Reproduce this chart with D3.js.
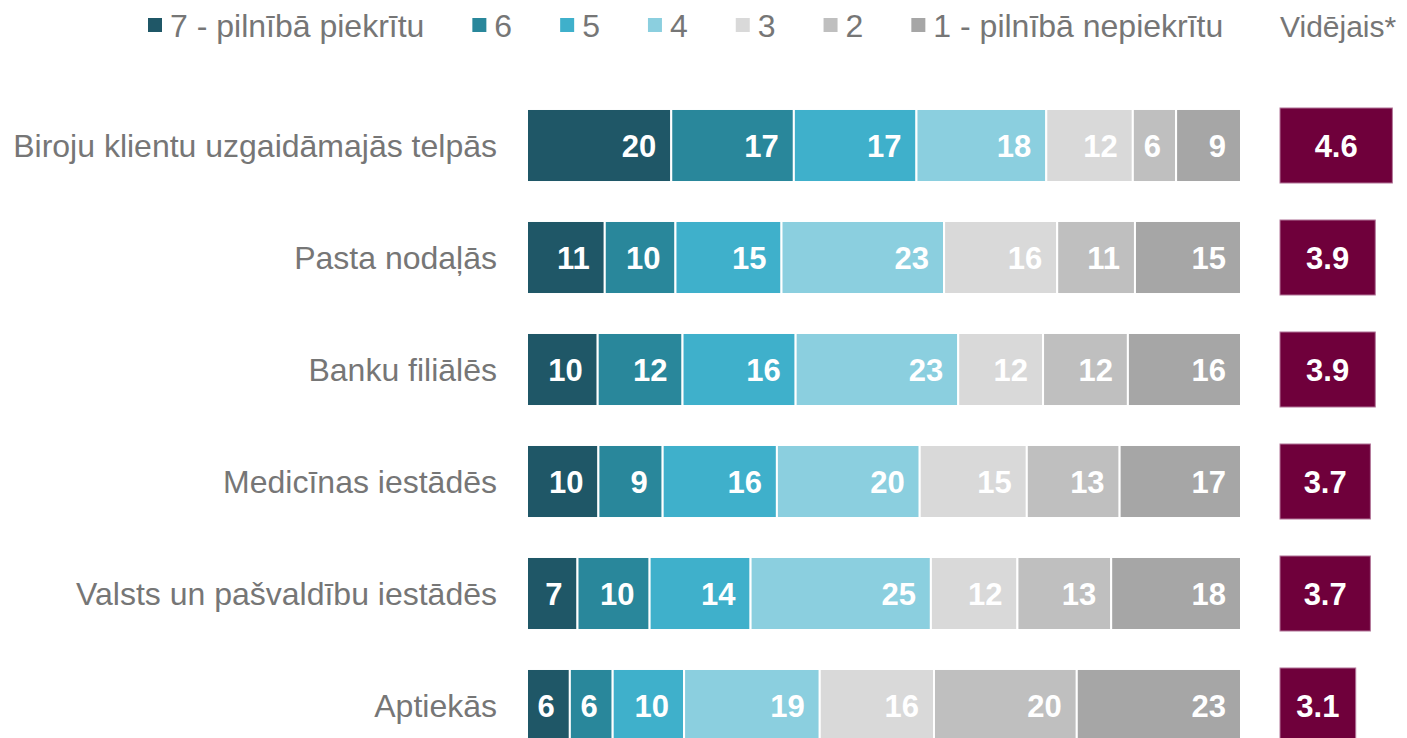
<!DOCTYPE html>
<html>
<head>
<meta charset="utf-8">
<script src="https://cdn.jsdelivr.net/npm/d3@7"></script>
<style>
  body { margin: 0; background: #fff; }
  text { font-family: "Liberation Sans", Arial, sans-serif; }
</style>
</head>
<body>
<script>
const w = 1407, h = 738

// categories (top to bottom)
const categories = [
    "Biroju klientu uzgaidāmajās telpās",
    "Pasta nodaļās",
    "Banku filiālēs",
    "Medicīnas iestādēs",
    "Valsts un pašvaldību iestādēs",
    "Aptiekās"
]
// series keys and legend labels, from "7" down to "1"
const keys = ["s7", "s6", "s5", "s4", "s3", "s2", "s1"]
const legendLabels = ["7 - pilnībā piekrītu", "6", "5", "4", "3", "2", "1 - pilnībā nepiekrītu"]
const colors = ["#1f5767", "#29879b", "#3fb0cb", "#8bcfdf", "#d9d9d9", "#bfbfbf", "#a6a6a6"]

const s7 = [20, 11, 10, 10, 7, 6]
const s6 = [17, 10, 12, 9, 10, 6]
const s5 = [17, 15, 16, 16, 14, 10]
const s4 = [18, 23, 23, 20, 25, 19]
const s3 = [12, 16, 12, 15, 12, 16]
const s2 = [6, 11, 12, 13, 13, 20]
const s1 = [9, 15, 16, 17, 18, 23]
const avg = [4.6, 3.9, 3.9, 3.7, 3.7, 3.1]
const avgLabel = "Vidējais*"

const series = { s7, s6, s5, s4, s3, s2, s1 }
const rows = categories.map((c, i) => {
    let r = { cat: c, avg: avg[i] }
    keys.forEach(k => r[k] = series[k][i])
    return r
})

const gray = "#767676"

const svg = d3.select("body").append("svg")
    .attr("width", w).attr("height", h)

const y = d3.scaleBand()
    .domain(categories)
    .range([89.5, 89.5 + 672])
    .paddingInner(0.348)
    .paddingOuter(0.174)

const x = d3.scaleLinear().domain([0, 1]).range([527, 1241])
const xa = d3.scaleLinear().domain([0, 7]).range([1280, 1280 + 171])
const color = d3.scaleOrdinal().domain(keys).range(colors)

const stacked = d3.stack().keys(keys).offset(d3.stackOffsetExpand)(rows)

// stacked bars
const layer = svg.append("g").selectAll("g")
    .data(stacked)
    .join("g")
    .attr("fill", d => color(d.key))

layer.selectAll("rect")
    .data(d => d)
    .join("rect")
    .attr("x", d => x(d[0]))
    .attr("y", d => y(d.data.cat))
    .attr("width", d => x(d[1]) - x(d[0]))
    .attr("height", y.bandwidth())
    .attr("stroke", "#fff")
    .attr("stroke-width", 2)

layer.selectAll("text")
    .data(d => d.map(v => ({ v, key: d.key })))
    .join("text")
    .attr("x", d => x(d.v[1]) - 15)
    .attr("y", d => y(d.v.data.cat) + y.bandwidth() / 2)
    .attr("dy", "0.36em")
    .attr("text-anchor", "end")
    .attr("fill", "#fff")
    .attr("font-weight", "bold")
    .attr("font-size", 31)
    .text(d => d.v.data[d.key])

// category labels
svg.append("g").selectAll("text")
    .data(categories)
    .join("text")
    .attr("x", 497)
    .attr("y", d => y(d) + y.bandwidth() / 2)
    .attr("dy", "0.36em")
    .attr("text-anchor", "end")
    .attr("fill", gray)
    .attr("font-size", 32)
    .text(d => d)

// averages
const ag = svg.append("g")
ag.selectAll("rect")
    .data(rows)
    .join("rect")
    .attr("x", xa(0))
    .attr("y", d => y(d.cat) - 1)
    .attr("width", d => xa(d.avg) - xa(0))
    .attr("height", y.bandwidth() + 2)
    .attr("fill", "#6f003b")
    .attr("stroke", "#b3779a")
    .attr("stroke-width", 1)

ag.selectAll("text")
    .data(rows)
    .join("text")
    .attr("x", d => (xa(d.avg) + xa(0)) / 2)
    .attr("y", d => y(d.cat) + y.bandwidth() / 2)
    .attr("dy", "0.36em")
    .attr("text-anchor", "middle")
    .attr("fill", "#fff")
    .attr("font-weight", "bold")
    .attr("font-size", 31)
    .text(d => d3.format(".1f")(d.avg))

// legend
const lg = svg.append("g")
let lx = 148
keys.forEach((k, i) => {
    lg.append("rect")
        .attr("x", lx).attr("y", 18)
        .attr("width", 14).attr("height", 14)
        .attr("fill", color(k))
    let t = lg.append("text")
        .attr("x", lx + 22).attr("y", 37)
        .attr("fill", gray)
        .attr("font-size", 32)
        .text(legendLabels[i])
    lx = lx + 22 + t.node().getComputedTextLength() + 48
})

svg.append("text")
    .attr("x", 1280).attr("y", 37)
    .attr("fill", gray)
    .attr("font-size", 30)
    .text(avgLabel)
</script>
</body>
</html>
